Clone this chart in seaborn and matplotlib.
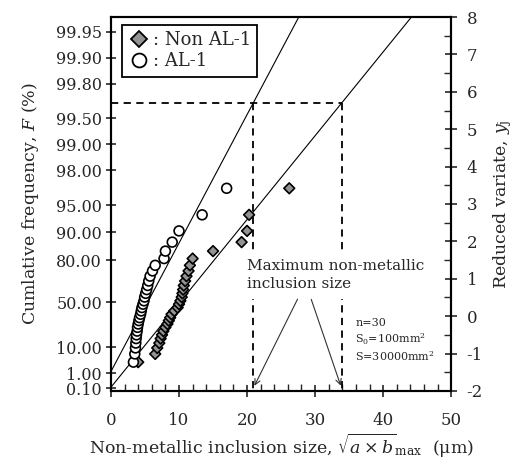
import matplotlib
matplotlib.use('Agg')
import matplotlib.pyplot as plt
from matplotlib.lines import Line2D
import seaborn as sns
import pandas as pd
import numpy as np

# reduced variate of each rank j (n = 30), y_j = -ln(-ln(j/(n+1)))
yj = [-1.23, -1.01, -0.85, -0.72, -0.60, -0.50, -0.40, -0.30, -0.21, -0.12,
      -0.04, 0.05, 0.14, 0.23, 0.32, 0.41, 0.51, 0.61, 0.71, 0.82,
      0.94, 1.07, 1.21, 1.36, 1.54, 1.74, 1.98, 2.28, 2.71, 3.42]

# inclusion sizes (um), sorted
non_al1 = [4.0, 6.5, 6.8, 7.1, 7.3, 7.5, 7.7, 8.0, 8.3, 8.5,
           8.7, 8.9, 9.3, 9.8, 10.0, 10.2, 10.4, 10.5, 10.6, 10.7,
           10.9, 11.1, 11.4, 11.6, 12.0, 15.0, 19.2, 20.0, 20.3, 26.2]
al1 = [3.3, 3.5, 3.6, 3.65, 3.7, 3.75, 3.85, 3.9, 4.0, 4.1,
       4.2, 4.35, 4.45, 4.55, 4.7, 4.85, 4.95, 5.1, 5.25, 5.4,
       5.55, 5.75, 6.1, 6.5, 7.8, 8.0, 9.0, 10.0, 13.4, 17.0]

# Gumbel fit lines: intercept at x=0 and slope (per um)
fit_intercept = {'Non AL-1': -1.90, 'AL-1': -1.48}
fit_slope = {'Non AL-1': 0.2242, 'AL-1': 0.3435}

# predicted maximum sizes and return-period reduced variate (T = S/S0 = 300)
sqrt_area_max = [20.9, 33.9]
y_T = 5.70

# left axis labels (cumulative frequency, %)
F_labels = ['0.10', '1.00', '10.00', '50.00', '80.00', '90.00', '95.00',
            '98.00', '99.00', '99.50', '99.80', '99.90', '99.95']
F_ticks = [-np.log(-np.log(float(f) / 100)) for f in F_labels]

df = pd.DataFrame({'size': non_al1 + al1, 'yj': yj + yj,
                   'steel': ['Non AL-1'] * 30 + ['AL-1'] * 30})

sns.set_style('ticks')
plt.rcParams['font.family'] = ['DejaVu Serif']
plt.rcParams['mathtext.fontset'] = 'dejavuserif'
plt.rcParams['axes.unicode_minus'] = False

fig = plt.figure(figsize=(5.21, 4.61), dpi=100)
ax = fig.add_axes([0.213, 0.152, 0.653, 0.811])

# fitted lines
xs = np.array([0, 50])
for k in ['AL-1', 'Non AL-1']:
    ax.plot(xs, fit_intercept[k] + fit_slope[k] * xs, color='black', lw=0.8, zorder=2)

sns.scatterplot(data=df, x='size', y='yj', hue='steel', style='steel', size='steel',
                markers={'Non AL-1': 'D', 'AL-1': 'o'},
                palette={'Non AL-1': '#939393', 'AL-1': 'white'},
                sizes={'Non AL-1': 30, 'AL-1': 50},
                edgecolor='black', linewidth=1.2, legend=False, ax=ax, zorder=4)

# dashed guide lines
ax.plot([0, sqrt_area_max[1]], [y_T, y_T], color='black', lw=1.3, ls=(0, (4, 3)), zorder=1)
for xm in sqrt_area_max:
    ax.plot([xm, xm], [y_T, -2], color='black', lw=1.3, ls=(0, (4, 3)), zorder=1)

ax.text(20.0, 1.1, 'Maximum non-metallic\ninclusion size', fontsize=11, ha='left', va='center',
        linespacing=1.35, zorder=3,
        bbox=dict(facecolor='white', edgecolor='none', pad=6))
ax.annotate('', xy=(sqrt_area_max[0], -1.93), xytext=(27.6, 0.52),
            arrowprops=dict(arrowstyle='->', lw=0.8, color='#333333'), zorder=3)
ax.annotate('', xy=(sqrt_area_max[1], -1.93), xytext=(29.3, 0.52),
            arrowprops=dict(arrowstyle='->', lw=0.8, color='#333333'), zorder=3)
ax.text(35.9, -0.05, 'n=30\nS$_0$=100mm$^2$\nS=30000mm$^2$', fontsize=8, ha='left', va='top',
        linespacing=1.25)

ax.set_xlim(0, 50)
ax.set_ylim(-2, 8)
ax.set_xticks(range(0, 51, 10))
ax.set_xticks(range(0, 51, 2), minor=True)
ax.set_yticks(F_ticks)
ax.set_yticklabels(F_labels)
ax.tick_params(axis='x', which='major', direction='inout', length=9, width=1.2, pad=11, labelsize=12)
ax.tick_params(axis='x', which='minor', direction='in', length=5, width=1.0)
ax.tick_params(axis='y', which='major', direction='inout', length=7, width=1.2, pad=3, labelsize=11.5)
ax.set_xlabel(r'Non-metallic inclusion size, $\sqrt{a\times b}_{\rm max}$  (μm)', fontsize=12.5, labelpad=2)
ax.set_ylabel('Cumlative frequency, $F$ (%)', fontsize=12.5, labelpad=11)

ax2 = ax.twinx()
ax2.set_ylim(-2, 8)
ax2.set_yticks(range(-2, 9))
ax2.set_yticks(np.arange(-2, 8.1, 0.5), minor=True)
ax2.tick_params(axis='y', which='major', direction='inout', length=8, width=1.2, pad=7, labelsize=12)
ax2.tick_params(axis='y', which='minor', direction='in', length=5, width=1.0)
ax2.set_ylabel('Reduced variate, $y_{\\rm j}$', fontsize=12.5, labelpad=6)

for a in (ax, ax2):
    for sp in a.spines.values():
        sp.set_linewidth(1.5)
        sp.set_color('black')

handles = [Line2D([], [], marker='D', ls='none', markerfacecolor='#939393', markeredgecolor='black',
                  markeredgewidth=1.3, markersize=8),
           Line2D([], [], marker='o', ls='none', markerfacecolor='white', markeredgecolor='black',
                  markeredgewidth=1.3, markersize=10)]
leg = ax.legend(handles, [': Non AL-1', ': AL-1'], loc='upper left', bbox_to_anchor=(0.032, 0.98),
                borderaxespad=0, fontsize=13, frameon=True, fancybox=False, framealpha=1,
                handlelength=1.2, handletextpad=0.15, borderpad=0.35, labelspacing=0.2)
leg.get_frame().set_edgecolor('black')
leg.get_frame().set_linewidth(1.3)
leg.set_zorder(5)

fig.savefig('out.png', dpi=100)
